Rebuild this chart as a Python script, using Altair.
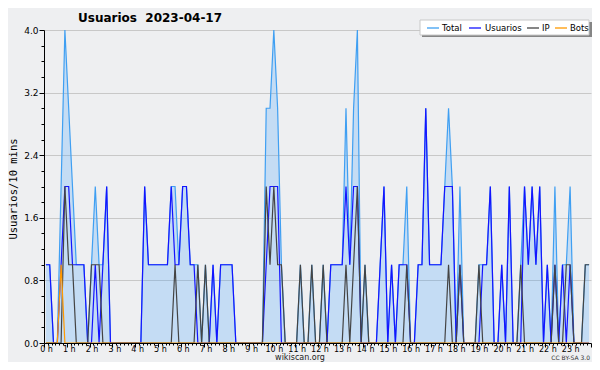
import altair as alt
import pandas as pd

# 144 ten-minute slots (0:00 .. 23:50)
usuarios = [
    1, 1, 0, 0, 1, 2, 2, 1, 1, 1,
    1, 0, 0, 1, 0, 1, 2, 0, 0, 0,
    0, 0, 0, 0, 0, 0, 2, 1, 1, 1,
    1, 1, 1, 2, 1, 1, 2, 2, 1, 1,
    0, 0, 0, 0, 1, 0, 1, 1, 1, 1,
    0, 0, 0, 0, 0, 0, 0, 0, 1, 2,
    2, 2, 0, 0, 0, 0, 0, 0, 0, 0,
    0, 0, 0, 0, 0, 1, 1, 1, 1, 2,
    1, 2, 2, 0, 0, 0, 0, 0, 1, 2,
    0, 1, 0, 1, 1, 1, 0, 0, 1, 1,
    3, 1, 1, 1, 1, 2, 2, 2, 0, 1,
    0, 0, 0, 0, 0, 1, 1, 2, 0, 0,
    1, 0, 2, 0, 0, 0, 2, 1, 2, 1,
    2, 0, 1, 0, 1, 0, 1, 0, 1, 0,
    0, 0, 0, 0,
]
ip = [
    0, 0, 0, 0, 0, 2, 1, 1, 0, 0,
    0, 0, 1, 1, 1, 0, 0, 0, 0, 0,
    0, 0, 0, 0, 0, 0, 0, 0, 0, 0,
    0, 0, 0, 0, 1, 0, 0, 0, 0, 0,
    1, 0, 1, 0, 0, 0, 0, 0, 0, 0,
    0, 0, 0, 0, 0, 0, 0, 0, 2, 1,
    2, 1, 1, 0, 0, 0, 0, 1, 0, 0,
    1, 0, 0, 1, 0, 0, 0, 0, 0, 1,
    0, 1, 2, 0, 1, 0, 0, 0, 0, 0,
    0, 0, 0, 0, 0, 1, 0, 0, 0, 0,
    0, 0, 0, 0, 0, 0, 1, 0, 0, 1,
    0, 0, 0, 0, 1, 0, 0, 0, 0, 0,
    0, 0, 0, 0, 0, 1, 0, 0, 0, 0,
    0, 0, 0, 0, 1, 0, 0, 1, 1, 0,
    0, 0, 1, 1,
]
bots = [
    0, 0, 0, 0, 1, 0, 0, 0, 0, 0,
    0, 0, 0, 0, 0, 0, 0, 0, 0, 0,
    0, 0, 0, 0, 0, 0, 0, 0, 0, 0,
    0, 0, 0, 0, 0, 0, 0, 0, 0, 0,
    0, 0, 0, 0, 0, 0, 0, 0, 0, 0,
    0, 0, 0, 0, 0, 0, 0, 0, 0, 0,
    0, 0, 0, 0, 0, 0, 0, 0, 0, 0,
    0, 0, 0, 0, 0, 0, 0, 0, 0, 0,
    0, 0, 0, 0, 0, 0, 0, 0, 0, 0,
    0, 0, 0, 0, 0, 0, 0, 0, 0, 0,
    0, 0, 0, 0, 0, 0, 0, 0, 0, 0,
    0, 0, 0, 0, 0, 0, 0, 0, 0, 0,
    0, 0, 0, 0, 0, 0, 0, 0, 0, 0,
    0, 0, 0, 0, 0, 0, 0, 0, 0, 0,
    0, 0, 0, 0,
]
total = [
    1, 1, 0, 0, 2, 4, 3, 2, 1, 1,
    1, 0, 1, 2, 1, 1, 2, 0, 0, 0,
    0, 0, 0, 0, 0, 0, 2, 1, 1, 1,
    1, 1, 1, 2, 2, 1, 2, 2, 1, 1,
    1, 0, 1, 0, 1, 0, 1, 1, 1, 1,
    0, 0, 0, 0, 0, 0, 0, 0, 3, 3,
    4, 3, 1, 0, 0, 0, 0, 1, 0, 0,
    1, 0, 0, 1, 0, 1, 1, 1, 1, 3,
    1, 3, 4, 0, 1, 0, 0, 0, 1, 2,
    0, 1, 0, 1, 1, 2, 0, 0, 1, 1,
    3, 1, 1, 1, 1, 2, 3, 2, 0, 2,
    0, 0, 0, 0, 1, 1, 1, 2, 0, 0,
    1, 0, 2, 0, 0, 1, 2, 1, 2, 1,
    2, 0, 1, 0, 2, 0, 1, 1, 2, 0,
    0, 0, 1, 1,
]
series_names = ["Total", "Usuarios", "IP", "Bots"]
series_colors = ["#3f9ff2", "#1414ff", "#444444", "#ff9900"]
y_ticks = [round(i * 0.2, 1) for i in range(21)]
x_ticks = [i / 6 for i in range(145)]

df = pd.DataFrame({"slot": list(range(144)), "Total": total,
                   "Usuarios": usuarios, "IP": ip, "Bots": bots})
df["h"] = (df["slot"] + 0.5) / 6

FONT = "DejaVu Sans"
major = "abs(datum.value/0.8 - round(datum.value/0.8)) < 0.01"

x_axis = alt.Axis(
    values=x_ticks, title=None, grid=False, zindex=1,
    domainColor="black", tickColor="black",
    tickSize={"condition": {"test": "datum.value % 1 === 0", "value": 4}, "value": 2},
    labelExpr="datum.value % 1 === 0 && datum.value < 24 ? datum.value + ' h' : ''",
    labelFont=FONT, labelFontSize=8, labelColor="black", labelPadding=-2,
    labelOverlap=False, labelFlush=False, labelOffset=2, labelBound=False,
)
y_axis = alt.Axis(
    values=y_ticks, title=None, grid=True, zindex=0,
    gridColor="#c8c8c8",
    gridOpacity={"condition": {"test": major + " && datum.value > 0", "value": 1}, "value": 0},
    domainColor="black", tickColor="black",
    tickSize={"condition": {"test": major, "value": 5}, "value": 3},
    labelExpr=major + " ? format(datum.value, '.1f') : ''",
    labelFont=FONT, labelFontSize=9, labelColor="black", labelPadding=1,
    labelOverlap=False, labelFlush=False,
)

xs = alt.Scale(domain=[0, 24], nice=False, zero=False)
ys = alt.Scale(domain=[0, 4], nice=False)


def enc(field):
    return dict(x=alt.X("h:Q", scale=xs, axis=x_axis),
                y=alt.Y(f"{field}:Q", scale=ys, axis=y_axis))


base = alt.Chart(df)
area = base.mark_area(color="#3399ff", opacity=0.22).encode(**enc("Total"))
lines = [
    base.mark_line(color=c, strokeWidth=1.2, interpolate="linear").encode(**enc(n))
    for n, c in zip(series_names, series_colors)
]

one = pd.DataFrame({"k": [0]})
deco = []
deco.append(alt.Chart(one).mark_text(text="Usuarios\u00a0\u00a02023-04-17", align="left", baseline="alphabetic",
                                     font=FONT, fontSize=12, fontWeight="bold", color="black")
            .encode(x=alt.value(34), y=alt.value(-8)))
deco.append(alt.Chart(one).mark_text(text="Usuarios/10 mins", angle=270, align="center", baseline="middle",
                                     font="DejaVu Sans Mono", fontSize=10.5, color="black")
            .encode(x=alt.value(-30), y=alt.value(159)))
deco.append(alt.Chart(one).mark_text(text="wikiscan.org", align="center", baseline="alphabetic",
                                     font=FONT, fontSize=8, color="#222")
            .encode(x=alt.value(256), y=alt.value(330)))
deco.append(alt.Chart(one).mark_text(text="CC BY-SA 3.0", align="right", baseline="alphabetic",
                                     font=FONT, fontSize=6, color="#333")
            .encode(x=alt.value(546), y=alt.value(330)))
# legend box with shadow
deco.append(alt.Chart(one).mark_rect(color="#858585")
            .encode(x=alt.value(378), x2=alt.value(548), y=alt.value(-8), y2=alt.value(7)))
deco.append(alt.Chart(one).mark_rect(fill="white", stroke="#c8c8c8", strokeWidth=1)
            .encode(x=alt.value(376), x2=alt.value(545), y=alt.value(-10), y2=alt.value(5)))
leg_line_x = [383, 425, 483, 511]
leg_text_x = [398, 441, 498, 526]
for n, c, lx, tx in zip(series_names, series_colors, leg_line_x, leg_text_x):
    deco.append(alt.Chart(one).mark_rule(color=c, strokeWidth=1.3)
                .encode(x=alt.value(lx), x2=alt.value(lx + 12), y=alt.value(-2)))
    deco.append(alt.Chart(one).mark_text(text=n, align="left", baseline="middle",
                                         font=FONT, fontSize=8.5, color="black")
                .encode(x=alt.value(tx), y=alt.value(-2)))

chart = alt.layer(area, *lines, *deco).properties(
    width=547, height=313,
    padding={"left": 36, "top": 22, "right": 1, "bottom": 19},
    autosize=alt.AutoSizeParams(type="none"),
    background="#eeeff1",
).configure_view(stroke=None)

chart.save("out.html", embed_options={"renderer": "svg", "actions": False})
